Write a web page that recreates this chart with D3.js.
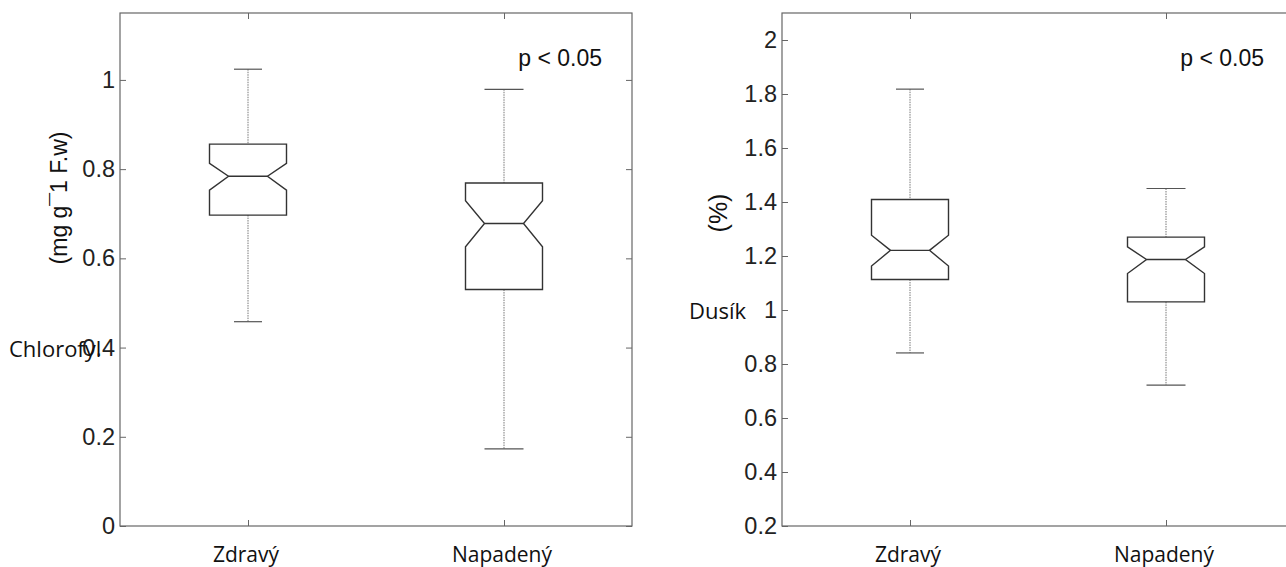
<!DOCTYPE html>
<html>
<head>
<meta charset="utf-8">
<script src="https://cdn.jsdelivr.net/npm/d3@7"></script>
<style>
  html, body { margin: 0; padding: 0; background: #fff; }
  svg { display: block; }
</style>
</head>
<body>
<script>
// kategorie
const categories = ["Zdravý", "Napadený"];

// chlorofyl (mg g-1 F.w)
const chlWhiskerLow = [0.458, 0.173];
const chlQ1 = [0.697, 0.530];
const chlNotchLow = [0.753, 0.626];
const chlMedian = [0.784, 0.678];
const chlNotchHigh = [0.813, 0.729];
const chlQ3 = [0.856, 0.769];
const chlWhiskerHigh = [1.024, 0.979];
const chlTicks = [0, 0.2, 0.4, 0.6, 0.8, 1];

// dusík (%)
const dusWhiskerLow = [0.841, 0.722];
const dusQ1 = [1.113, 1.030];
const dusNotchLow = [1.163, 1.135];
const dusMedian = [1.221, 1.187];
const dusNotchHigh = [1.277, 1.234];
const dusQ3 = [1.409, 1.270];
const dusWhiskerHigh = [1.818, 1.450];
const dusTicks = [0.2, 0.4, 0.6, 0.8, 1, 1.2, 1.4, 1.6, 1.8, 2];

const pText = "p < 0.05";

const width = 1286;
const height = 567;
const boxHalf = 38.5;
const notchHalf = 19.5;
const capHalf = [14, 19.5];

const svg = d3.select("body").append("svg")
  .attr("width", width)
  .attr("height", height);

function panel(opt) {
  const x = d3.scaleLinear().domain([0.5, 2.5]).range([opt.left, opt.right]);
  const y = d3.scaleLinear().domain(opt.domain).range([526, 13]);
  const g = svg.append("g");

  const rows = categories.map((c, i) => ({
    c, i, pos: i + 1,
    lo: opt.wl[i], q1: opt.q1[i], nl: opt.nl[i], med: opt.med[i],
    nh: opt.nh[i], q3: opt.q3[i], hi: opt.wh[i]
  }));

  // osy (ticky dovnitř)
  const axL = g.append("g").attr("transform", `translate(${opt.left},0)`)
    .call(d3.axisLeft(y).tickValues(opt.ticks).tickSize(-6).tickPadding(5).tickFormat(d3.format("~g")));
  g.append("g").attr("transform", `translate(${opt.right},0)`)
    .call(d3.axisRight(y).tickValues(opt.ticks).tickSize(-6).tickFormat(""));
  g.append("g").attr("transform", `translate(0,13)`)
    .call(d3.axisTop(x).tickValues([1, 2]).tickSize(-6).tickFormat(""));
  g.append("g").attr("transform", `translate(0,526)`)
    .call(d3.axisBottom(x).tickValues([1, 2]).tickSize(-6).tickFormat(""));
  g.selectAll(".domain").remove();
  g.selectAll(".tick line").attr("stroke", "#666");
  axL.selectAll("text")
    .attr("font-family", "'Liberation Sans', Arial, sans-serif")
    .attr("font-size", 23.5)
    .attr("fill", "#222");

  // rám
  g.append("rect")
    .attr("x", opt.left).attr("y", 13)
    .attr("width", opt.right - opt.left).attr("height", 513)
    .attr("fill", "none").attr("stroke", "#666").attr("stroke-width", 1.2);

  // vousy
  const wh = g.selectAll(".whisk").data(rows).enter().append("g");
  wh.append("line")
    .attr("x1", d => x(d.pos)).attr("x2", d => x(d.pos))
    .attr("y1", d => y(d.hi)).attr("y2", d => y(d.q3))
    .attr("stroke", "#777").attr("stroke-dasharray", "1.5,1");
  wh.append("line")
    .attr("x1", d => x(d.pos)).attr("x2", d => x(d.pos))
    .attr("y1", d => y(d.q1)).attr("y2", d => y(d.lo))
    .attr("stroke", "#777").attr("stroke-dasharray", "1.5,1");
  wh.append("line")
    .attr("x1", d => x(d.pos) - capHalf[d.i]).attr("x2", d => x(d.pos) + capHalf[d.i])
    .attr("y1", d => y(d.hi)).attr("y2", d => y(d.hi))
    .attr("stroke", "#555").attr("stroke-width", 1.2);
  wh.append("line")
    .attr("x1", d => x(d.pos) - capHalf[d.i]).attr("x2", d => x(d.pos) + capHalf[d.i])
    .attr("y1", d => y(d.lo)).attr("y2", d => y(d.lo))
    .attr("stroke", "#555").attr("stroke-width", 1.2);

  // krabice se zářezem
  g.selectAll(".box").data(rows).enter().append("path")
    .attr("d", d => {
      const cx = x(d.pos);
      const pts = [
        [cx - boxHalf, y(d.q3)], [cx + boxHalf, y(d.q3)],
        [cx + boxHalf, y(d.nh)], [cx + notchHalf, y(d.med)],
        [cx + boxHalf, y(d.nl)], [cx + boxHalf, y(d.q1)],
        [cx - boxHalf, y(d.q1)], [cx - boxHalf, y(d.nl)],
        [cx - notchHalf, y(d.med)], [cx - boxHalf, y(d.nh)]
      ];
      return d3.line()(pts) + "Z";
    })
    .attr("fill", "none").attr("stroke", "#333").attr("stroke-width", 1.4);
  g.selectAll(".med").data(rows).enter().append("line")
    .attr("x1", d => x(d.pos) - notchHalf).attr("x2", d => x(d.pos) + notchHalf)
    .attr("y1", d => y(d.med)).attr("y2", d => y(d.med))
    .attr("stroke", "#333").attr("stroke-width", 1.4);

  // popisky kategorií
  g.selectAll(".cat").data(rows).enter().append("text")
    .attr("x", d => x(d.pos) - 2).attr("y", 562)
    .attr("text-anchor", "middle")
    .attr("font-family", "'Open Sans', 'Noto Sans', sans-serif")
    .attr("font-size", 21).attr("fill", "#111")
    .text(d => d.c);

  // p hodnota
  g.append("text")
    .attr("x", opt.right - 30).attr("y", 66)
    .attr("text-anchor", "end")
    .attr("font-family", "'Liberation Sans', Arial, sans-serif")
    .attr("font-size", 23).attr("fill", "#111")
    .text(pText);

  // jednotky (svisle)
  g.append("text")
    .attr("transform", `translate(${opt.unitX},${opt.unitY}) rotate(-90)`)
    .attr("text-anchor", "middle").attr("dominant-baseline", "central")
    .attr("font-family", "'Liberation Sans', Arial, sans-serif")
    .attr("font-size", opt.unitSize).attr("fill", "#111")
    .text(opt.unit);

  // název veličiny
  g.append("text")
    .attr("x", opt.nameX).attr("y", y(opt.nameAt))
    .attr("dominant-baseline", "central")
    .attr("font-family", "'Open Sans', 'Noto Sans', sans-serif")
    .attr("font-size", 22).attr("fill", "#111")
    .text(opt.name);
}

panel({
  left: 120, right: 632, domain: [0, 1.15], ticks: chlTicks,
  wl: chlWhiskerLow, q1: chlQ1, nl: chlNotchLow, med: chlMedian,
  nh: chlNotchHigh, q3: chlQ3, wh: chlWhiskerHigh,
  unit: "(mg g¯1 F.w)", unitX: 58.5, unitY: 198, unitSize: 23,
  name: "Chlorofyl", nameX: 9, nameAt: 0.4
});

panel({
  left: 782, right: 1294, domain: [0.2, 2.1], ticks: dusTicks,
  wl: dusWhiskerLow, q1: dusQ1, nl: dusNotchLow, med: dusMedian,
  nh: dusNotchHigh, q3: dusQ3, wh: dusWhiskerHigh,
  unit: "(%)", unitX: 718, unitY: 213, unitSize: 25,
  name: "Dusík", nameX: 689, nameAt: 1
});
</script>
</body>
</html>
